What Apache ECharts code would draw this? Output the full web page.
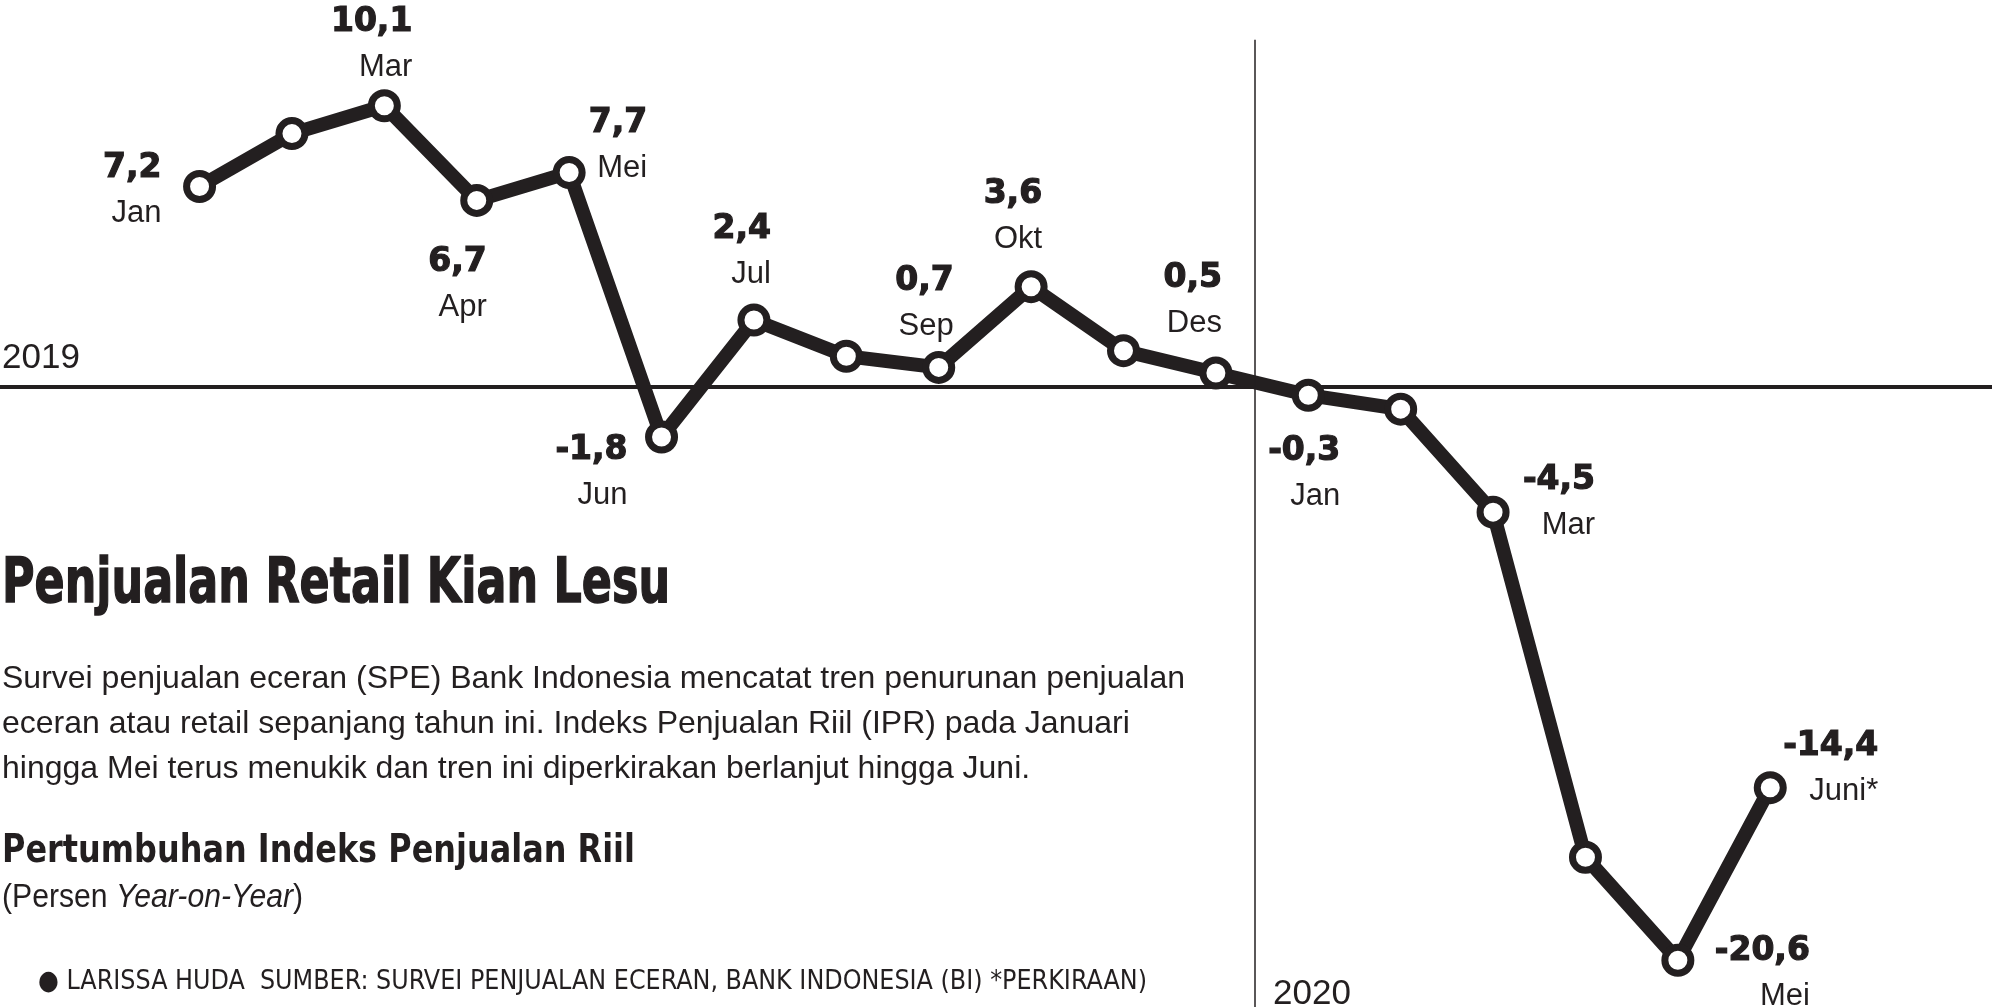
<!DOCTYPE html>
<html>
<head>
<meta charset="utf-8">
<script src="https://cdn.jsdelivr.net/npm/echarts@6/dist/echarts.min.js"></script>
<style>
html,body{margin:0;padding:0;background:#fff;}
#chart{width:1992px;height:1007px;}
</style>
</head>
<body>
<div id="chart"></div>
<script>
// ---- data ----
const months = ['Jan','Feb','Mar','Apr','Mei','Jun','Jul','Agu','Sep','Okt','Nov','Des','Jan','Feb','Mar','Apr','Mei','Juni*'];
const values = [7.2, 9.1, 10.1, 6.7, 7.7, -1.8, 2.4, 1.1, 0.7, 3.6, 1.3, 0.5, -0.3, -0.8, -4.5, -16.9, -20.6, -14.4];
const labeled = [true,false,true,true,true,true,true,false,true,true,false,true,true,false,true,false,true,true];
const yearLabels = ['2019', '2020'];
const yearDivider = 11.42; // between Des 2019 and Jan 2020 (index units)
const titleText = 'Penjualan Retail Kian Lesu';
const bodyLines = [
  'Survei penjualan eceran (SPE) Bank Indonesia mencatat tren penurunan penjualan',
  'eceran atau retail sepanjang tahun ini. Indeks Penjualan Riil (IPR) pada Januari',
  'hingga Mei terus menukik dan tren ini diperkirakan berlanjut hingga Juni.'
];
const subTitleText = 'Pertumbuhan Indeks Penjualan Riil';
const unitParts = ['(Persen ', 'Year-on-Year', ')'];
const footerText = '\u25CF LARISSA HUDA  SUMBER: SURVEI PENJUALAN ECERAN, BANK INDONESIA (BI) *PERKIRAAN)';

// ---- label placement (style: right edge dx, block centre dy, px) ----
const labelOffsets = {
  0:[-38,4], 2:[28,-61], 3:[10,85], 4:[78,-27], 5:[-34,36], 6:[17,-68],
  8:[15,-63], 9:[11,-70], 11:[6,-72], 12:[32,79], 14:[102,-9], 16:[132,14], 17:[108,-19]
};

const INK = '#231f20';
const SANS = "'Liberation Sans', Arial, sans-serif";
const NARROW = "'Liberation Sans Narrow', 'DejaVu Sans Condensed', sans-serif";
const HEAVY = "'DejaVu Sans', sans-serif";

const fmt = v => v.toFixed(1).replace('.', ',');

// text measuring helper for horizontal condensing
const mctx = document.createElement('canvas').getContext('2d');
function tw(str, font) { mctx.font = font; return mctx.measureText(str).width; }
function fitScale(width, target) { return target / width; }

const titleFont = { family: HEAVY, weight: 'bold', size: 62 };
const subFont = { family: HEAVY, weight: 'bold', size: 39 };
const unitSize = 34;
const footSize = 27;

const titleScale = fitScale(tw(titleText, 'bold 62px ' + HEAVY), 668);
const subScale = fitScale(tw(subTitleText, 'bold 39px ' + HEAVY), 633);
const unitW = tw(unitParts[0], unitSize + 'px ' + SANS) + tw(unitParts[1], 'italic ' + unitSize + 'px ' + SANS) + tw(unitParts[2], unitSize + 'px ' + SANS);
const unitScale = fitScale(unitW, 301);
const footScale = fitScale(tw(footerText, footSize + 'px ' + NARROW), 1109);

const seriesData = values.map((v, i) => {
  const item = { value: [i, v] };
  if (labeled[i]) {
    item.label = {
      show: true,
      position: 'inside',
      align: 'right',
      verticalAlign: 'middle',
      offset: labelOffsets[i],
      formatter: '{v|' + fmt(v) + '}\n{m|' + months[i] + '}'
    };
  }
  return item;
});

const chart = echarts.init(document.getElementById('chart'), null, { renderer: 'canvas' });
chart.setOption({
  animation: false,
  backgroundColor: '#fff',
  grid: { left: 0, right: 0, top: 0, bottom: 0, containLabel: false },
  xAxis: {
    type: 'value', min: -2.16, max: 19.4,
    axisLine: { show: true, onZero: true, lineStyle: { color: INK, width: 4 } },
    axisTick: { show: false }, axisLabel: { show: false }, splitLine: { show: false }
  },
  yAxis: {
    type: 'value', min: -22.28, max: 13.9,
    axisLine: { show: false }, axisTick: { show: false }, axisLabel: { show: false }, splitLine: { show: false }
  },
  series: [{
    type: 'line',
    data: seriesData,
    lineStyle: { color: INK, width: 14, join: 'miter' },
    symbol: 'circle',
    symbolSize: 26,
    itemStyle: { color: '#ffffff', borderColor: INK, borderWidth: 7 },
    label: {
      show: false,
      color: INK,
      rich: {
        v: { fontFamily: HEAVY, fontWeight: 'bold', fontSize: 33, lineHeight: 45, color: INK, align: 'right',
             textBorderColor: INK, textBorderWidth: 1.2 },
        m: { fontFamily: SANS, fontSize: 31, lineHeight: 45, color: INK, align: 'right' }
      }
    },
    emphasis: { disabled: true },
    markLine: {
      silent: true, symbol: 'none', animation: false,
      label: { show: false },
      lineStyle: { color: INK, width: 1.5, type: 'solid' },
      data: [[ { coord: [yearDivider, 12.47] }, { coord: [yearDivider, -22.28] } ]]
    },
    z: 3
  }],
  graphic: [
    { type: 'text', x: 2, y: 358, style: { text: yearLabels[0], fontFamily: SANS, fontSize: 35, fill: INK, align: 'left', verticalAlign: 'middle' } },
    { type: 'text', x: 1273, y: 994, style: { text: yearLabels[1], fontFamily: SANS, fontSize: 35, fill: INK, align: 'left', verticalAlign: 'middle' } },
    { type: 'text', x: 2, y: 586, scaleX: titleScale, style: { text: titleText, fontFamily: titleFont.family, fontWeight: titleFont.weight, fontSize: titleFont.size, fill: INK, stroke: INK, lineWidth: 1.5, align: 'left', verticalAlign: 'middle' } },
    { type: 'text', x: 2, y: 679, style: { text: bodyLines[0], fontFamily: SANS, fontSize: 32, fill: INK, align: 'left', verticalAlign: 'middle' } },
    { type: 'text', x: 2, y: 724, style: { text: bodyLines[1], fontFamily: SANS, fontSize: 32, fill: INK, align: 'left', verticalAlign: 'middle' } },
    { type: 'text', x: 2, y: 769, style: { text: bodyLines[2], fontFamily: SANS, fontSize: 32, fill: INK, align: 'left', verticalAlign: 'middle' } },
    { type: 'text', x: 2, y: 852, scaleX: subScale, style: { text: subTitleText, fontFamily: subFont.family, fontWeight: subFont.weight, fontSize: subFont.size, fill: INK, align: 'left', verticalAlign: 'middle' } },
    { type: 'text', x: 2, y: 898, scaleX: unitScale, style: { text: unitParts[0] + '{i|' + unitParts[1] + '}' + unitParts[2], fontFamily: SANS, fontSize: unitSize, fill: INK, align: 'left', verticalAlign: 'middle',
        rich: { i: { fontFamily: SANS, fontStyle: 'italic', fontSize: unitSize, fill: INK, color: INK } } } },
    { type: 'text', x: 38, y: 982, scaleX: footScale, style: { text: footerText, fontFamily: NARROW, fontSize: footSize, fill: INK, align: 'left', verticalAlign: 'middle' } }
  ]
});
</script>
</body>
</html>
